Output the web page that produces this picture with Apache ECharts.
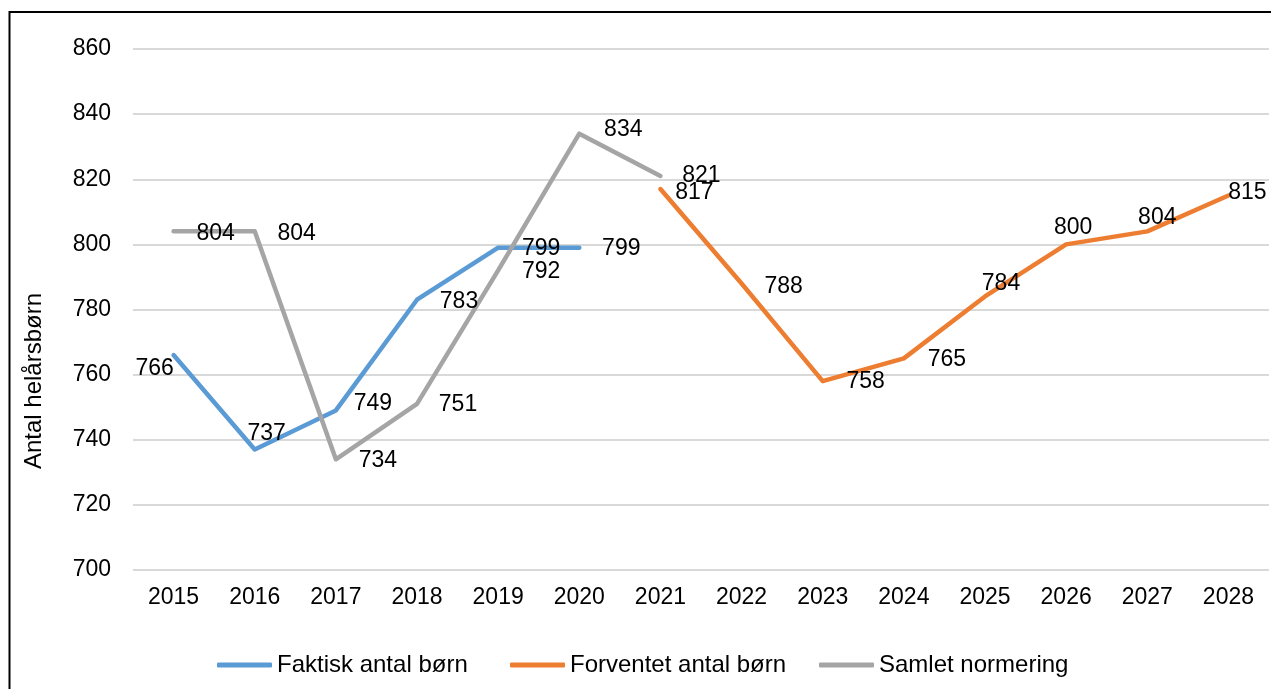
<!DOCTYPE html>
<html>
<head>
<meta charset="utf-8">
<script src="https://cdn.jsdelivr.net/npm/echarts@6/dist/echarts.min.js"></script>
<style>
html,body{margin:0;padding:0;background:#fff;}
#c{width:1271px;height:689px;}
</style>
</head>
<body>
<div id="c"></div>
<script>
var years = ['2015','2016','2017','2018','2019','2020','2021','2022','2023','2024','2025','2026','2027','2028'];
var faktisk = [766, 737, 749, 783, 799, 799, null, null, null, null, null, null, null, null];
var forventet = [null, null, null, null, null, null, 817, 788, 758, 765, 784, 800, 804, 815];
var samlet = [804, 804, 734, 751, 792, 834, 821, null, null, null, null, null, null, null];
var yTicks = {min: 700, max: 860, interval: 20};
var seriesNames = ['Faktisk antal børn', 'Forventet antal børn', 'Samlet normering'];

// label placement (offset of label centre from the point, px)
var offFaktisk = [[-19,14],[12,-16],[37,-7],[42,2],[43,1],[42,1]];
var offForventet = {6:[34,4],7:[42,3],8:[43,1],9:[43,1],10:[16,-13],11:[7,-17],12:[10,-14],13:[19,-3]};
var offSamlet = [[42,2],[42,2],[42,1],[41,1],[43,1],[44,-4],[41,0]];
var legendLefts = [217, 510, 819];

var FONT = 'Liberation Sans, Arial, sans-serif';

function build(vals, offs) {
  return vals.map(function (v, i) {
    if (v === null) return null;
    var o = offs[i] || [42, 1];
    return {value: v, label: {offset: o}};
  });
}

function mk(name, vals, offs, color) {
  return {
    name: name,
    type: 'line',
    data: build(vals, offs),
    symbol: 'circle',
    symbolSize: 1,
    itemStyle: {color: color},
    lineStyle: {color: color, width: 4.5, cap: 'round', join: 'round'},
    label: {show: true, position: 'inside', color: '#000', fontSize: 23, fontFamily: FONT},
    emphasis: {disabled: true},
    z: 2
  };
}

var legends = seriesNames.map(function (n, i) {
  return {
    left: legendLefts[i], top: 653, padding: 0,
    icon: 'roundRect',
    itemWidth: 55, itemHeight: 5,
    textStyle: {color: '#000', fontSize: 24, fontFamily: FONT},
    data: [n]
  };
});

var chart = echarts.init(document.getElementById('c'), null, {renderer: 'canvas'});
chart.setOption({
  animation: false,
  backgroundColor: '#fff',
  grid: {left: 133, top: 49, width: 1136, height: 521, containLabel: false},
  xAxis: {
    type: 'category',
    data: years,
    boundaryGap: true,
    axisLine: {show: false},
    axisTick: {show: false},
    axisLabel: {color: '#000', fontSize: 23, fontFamily: FONT, margin: 16, interval: 0}
  },
  yAxis: {
    type: 'value',
    min: yTicks.min, max: yTicks.max, interval: yTicks.interval,
    axisLine: {show: false},
    axisTick: {show: false},
    axisLabel: {color: '#000', fontSize: 23, fontFamily: FONT, margin: 22},
    splitLine: {lineStyle: {color: '#d9d9d9', width: 2}}
  },
  legend: legends,
  graphic: [
    {type: 'rect', shape: {x: 9.5, y: 12, width: 1400, height: 800}, style: {fill: 'none', stroke: '#000', lineWidth: 2}, silent: true},
    {type: 'text', x: 34, y: 381, rotation: Math.PI / 2,
     style: {text: 'Antal helårsbørn', font: '24px ' + FONT, fill: '#000', textAlign: 'center', textVerticalAlign: 'middle'}}
  ],
  series: [
    mk(seriesNames[0], faktisk, offFaktisk, '#5B9BD5'),
    mk(seriesNames[1], forventet, offForventet, '#ED7D31'),
    mk(seriesNames[2], samlet, offSamlet, '#A5A5A5')
  ]
});
</script>
</body>
</html>
